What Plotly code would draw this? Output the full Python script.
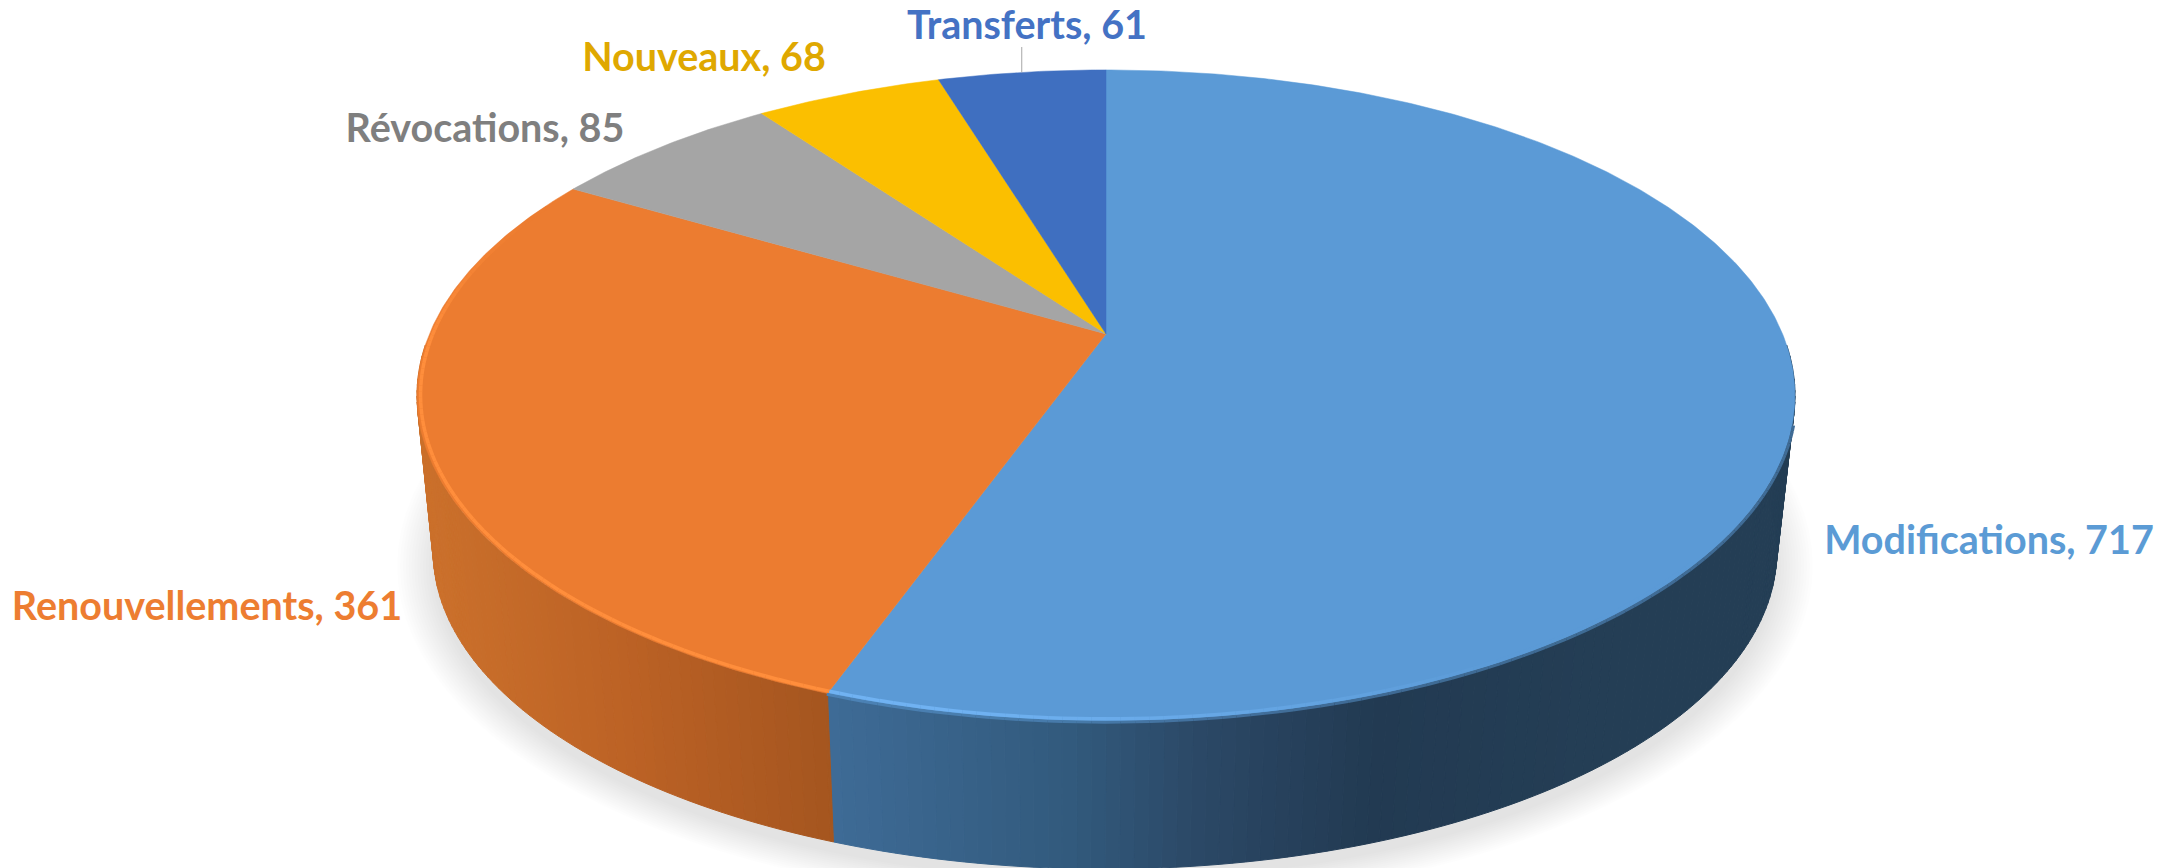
import math
import plotly.graph_objects as go

# ---- data ----
categories = ["Modifications", "Renouvellements", "Révocations", "Nouveaux", "Transferts"]
values = [717, 361, 85, 68, 61]
top_colors = ["#5B9AD6", "#EC7C30", "#A5A5A5", "#FBBF00", "#3F6FC0"]
label_colors = ["#5B9BD5", "#ED7D31", "#7F7F7F", "#DFA800", "#4472C4"]
label_centres = [(1989, 544), (207, 610), (485, 132), (704, 61), (1027, 29)]

# ---- projection of the tilted disc on the page ----
W, H = 2179, 868
APEX = (1106.0, 334.0)
K, A, B = 0.189, 676.6, 314.0
TOP_C = (1106.0, 394.0)
BOT_C = (1105.0, 552.0)
BOT_S = 0.975
FONT = "Lato"


def top_pt(deg, r=1.0):
    t = math.radians(deg)
    x, y = r * math.sin(t), r * math.cos(t)
    d = 1 + K * y
    return APEX[0] + A * x / d, APEX[1] - B * y / d


def bot_pt(deg):
    x, y = top_pt(deg)
    return BOT_C[0] + BOT_S * (x - TOP_C[0]), BOT_C[1] + BOT_S * (y - TOP_C[1]) - 2


def lerp_stops(stops, x):
    if x <= stops[0][0]:
        return stops[0][1]
    for (x0, c0), (x1, c1) in zip(stops, stops[1:]):
        if x <= x1:
            f = (x - x0) / (x1 - x0)
            return tuple(a + (b - a) * f for a, b in zip(c0, c1))
    return stops[-1][1]


def rgb(c):
    return "rgb(%d,%d,%d)" % tuple(round(v) for v in c)


side_stops = {
    0: [(830, (62, 107, 150)), (1068, (50, 90, 125)), (1200, (43, 72, 102)),
        (1376, (34, 58, 82)), (1600, (36, 62, 85))],
    1: [(425, (203, 112, 43)), (620, (188, 98, 37)), (835, (164, 85, 31))],
}

total = sum(values)
edges = [0.0]
for v in values:
    edges.append(edges[-1] + 360.0 * v / total)

fig = go.Figure()


def poly(xs, ys, fill, line=None, width=0):
    fig.add_trace(go.Scatter(
        x=xs, y=ys, mode="lines", fill="toself", fillcolor=fill,
        line=dict(color=line or fill, width=width), hoverinfo="skip", showlegend=False))


# soft shadow below the disc
N_SH = 14
for i in range(N_SH):
    f = (N_SH - i) / N_SH
    rx, ry = 668 + 40 * f, 312 + 28 * f
    pts = [(1105 + rx * math.cos(math.radians(a)), 566 + ry * math.sin(math.radians(a)))
           for a in range(0, 361, 3)]
    poly([p[0] for p in pts], [p[1] for p in pts], "rgba(0,0,0,0.009)")

# side wall strips, from the value slices
STEP = 1.0
for idx in (0, 1):
    start, end = edges[idx], edges[idx + 1]
    a0 = max(start, 92.0)
    a1 = min(end, 268.0)
    strips = []
    if idx == 1:
        a = a1
        while a > a0:
            strips.append((max(a - STEP, a0), a))
            a -= STEP
    else:
        a = a0
        while a < a1:
            strips.append((a, min(a + STEP, a1)))
            a += STEP
    for s, e in strips:
        p1, p2, p3, p4 = top_pt(s), top_pt(e), bot_pt(e), bot_pt(s)
        col = rgb(lerp_stops(side_stops[idx], (p1[0] + p2[0]) / 2))
        poly([p1[0], p2[0], p3[0], p4[0], p1[0]], [p1[1], p2[1], p3[1], p4[1], p1[1]], col, col, 1)

# top face slices
for i, cat in enumerate(categories):
    a, b = edges[i], edges[i + 1]
    n = max(4, int((b - a) * 2))
    arc = [top_pt(a + (b - a) * j / n) for j in range(n + 1)]
    xs = [APEX[0]] + [p[0] for p in arc] + [APEX[0]]
    ys = [APEX[1]] + [p[1] for p in arc] + [APEX[1]]
    poly(xs, ys, top_colors[i], top_colors[i], 0.5)

# blurred transition along the dark right part of the rim
deg = 106.0
while deg < edges[1]:
    p0, p1 = top_pt(deg, 1.002), top_pt(min(deg + 1, edges[1]), 1.002)
    side = lerp_stops(side_stops[0], (p0[0] + p1[0]) / 2)
    col = tuple((u + v) / 2 for u, v in zip(side, (91, 154, 214)))
    fig.add_trace(go.Scatter(x=[p0[0], p1[0]], y=[p0[1], p1[1]], mode="lines",
                             line=dict(color=rgb(col), width=3), hoverinfo="skip", showlegend=False))
    deg += 1

# bright bevel along the front rim
RIM = [(edges[0], edges[1], (91, 154, 214), (112, 178, 242)), (edges[1], edges[2], (236, 124, 48), (255, 142, 60))]
for a, b, base, bright in RIM:
    deg = max(a, 130.0)
    stop = min(b, 296.0)
    while deg < stop:
        p0, p1 = top_pt(deg, 0.995), top_pt(min(deg + 1, stop), 0.995)
        if deg < 205:
            f = max(0.0, min(1.0, (deg - 150) / 40))
        else:
            f = max(0.0, min(1.0, (292 - deg) / 25))
        col = tuple(u + (v - u) * f for u, v in zip(base, bright))
        fig.add_trace(go.Scatter(x=[p0[0], p1[0]], y=[p0[1], p1[1]], mode="lines",
                                 line=dict(color=rgb(col), width=3.5), hoverinfo="skip", showlegend=False))
        deg += 1

# leader line of the smallest label
mid = (edges[4] + edges[5]) / 2
lx, ly = top_pt(mid)
fig.add_trace(go.Scatter(x=[lx, lx], y=[47, ly], mode="lines",
                         line=dict(color="#A6A6A6", width=1), hoverinfo="skip", showlegend=False))

# labels
fig.add_trace(go.Scatter(
    x=[c[0] for c in label_centres], y=[c[1] for c in label_centres], mode="text",
    text=[f"{c}, {v}" for c, v in zip(categories, values)],
    textposition="middle center",
    textfont=dict(family=FONT, size=39.5, color=label_colors, weight="bold"),
    hoverinfo="skip", showlegend=False))

fig.update_layout(
    width=W, height=H, margin=dict(l=0, r=0, t=0, b=0),
    paper_bgcolor="white", plot_bgcolor="white", showlegend=False,
    xaxis=dict(range=[0, W], visible=False, fixedrange=True),
    yaxis=dict(range=[H, 0], visible=False, fixedrange=True),
)
fig.write_html("out.html", config={"displayModeBar": False},
               post_script="document.body.style.margin='0';document.documentElement.style.overflow='hidden';")
